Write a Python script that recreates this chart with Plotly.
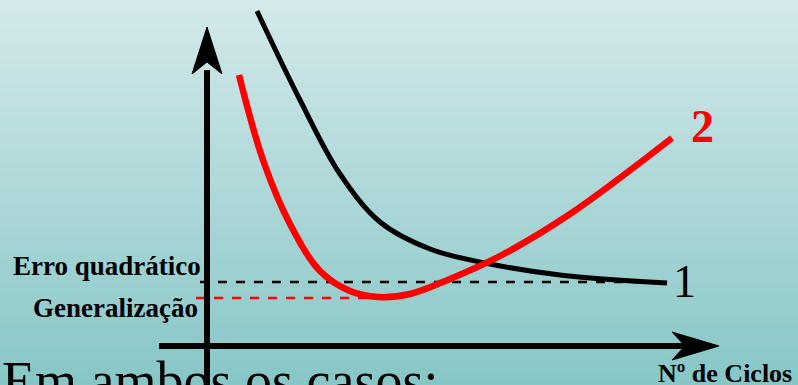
import plotly.graph_objects as go

# ---- data (x = nº de ciclos, y = erro, in chart units) ----
cycles_1 = [50, 93, 133, 173, 223, 278, 353, 460]
error_1 = [335, 246, 172, 124, 97, 83, 71, 63]

cycles_2 = [32, 56, 83, 113, 143, 171, 203, 243, 293, 363, 465]
error_2 = [271, 186, 122, 75, 55, 49, 52, 67, 90, 132, 208]

erro_quadratico = 64      # dashed reference level of curve 1
generalizacao = 48        # dashed reference level (minimum of curve 2)
erro_x_end = 460
gen_x_end = 170

x_label = "Nº de Ciclos"
level_labels = ["Erro quadrático", "Generalização"]
curve_labels = ["1", "2"]
caption = "Em ambos os casos:"

# ---- frame ----
X0, X1 = -207, 591
Y0, Y1 = -39, 346
TOP_COLOR = "#d4e9ea"
BOTTOM_COLOR = "#87c6c6"
SERIF = "Liberation Serif, Times New Roman, serif"

fig = go.Figure()

# background gradient
fig.add_trace(go.Heatmap(
    x=[X0, X1], y=[Y0, Y1], z=[[0, 0], [1, 1]],
    colorscale=[[0, BOTTOM_COLOR], [1, TOP_COLOR]],
    zsmooth="best", showscale=False, hoverinfo="skip"))

# dashed reference lines
fig.add_trace(go.Scatter(
    x=[-7, erro_x_end], y=[erro_quadratico, erro_quadratico], mode="lines",
    line=dict(color="black", width=2.5, dash="9px,9px"), hoverinfo="skip"))
fig.add_trace(go.Scatter(
    x=[-11, gen_x_end], y=[generalizacao, generalizacao], mode="lines",
    line=dict(color="#ff0000", width=2.5, dash="9px,9px"), hoverinfo="skip"))

# curves
fig.add_trace(go.Scatter(
    x=cycles_1, y=error_1, mode="lines",
    line=dict(color="black", width=5, shape="spline", smoothing=1.0),
    hoverinfo="skip"))
fig.add_trace(go.Scatter(
    x=cycles_2, y=error_2, mode="lines",
    line=dict(color="#ff0000", width=6.5, shape="spline", smoothing=1.0),
    hoverinfo="skip"))

shapes = [
    # vertical axis
    dict(type="line", x0=0, x1=0, y0=Y0 - 5, y1=276, line=dict(color="black", width=6)),
    dict(type="path", path="M 0 319 L -15 272 L 0 284 L 15 272 Z",
         fillcolor="black", line=dict(color="black", width=1)),
    # horizontal axis
    dict(type="line", x0=-48, x1=482, y0=0, y1=0, line=dict(color="black", width=6)),
    dict(type="path", path="M 512 0 L 465 14 L 478 0 L 465 -14 Z",
         fillcolor="black", line=dict(color="black", width=1)),
]

annotations = [
    dict(x=-4, y=63, text="<b>" + level_labels[0] + "</b>", xanchor="right", yanchor="bottom",
         font=dict(family=SERIF, size=27, color="black"), showarrow=False),
    dict(x=-7, y=21, text="<b>" + level_labels[1] + "</b>", xanchor="right", yanchor="bottom",
         font=dict(family=SERIF, size=27, color="black"), showarrow=False),
    dict(x=449, y=-11, text="<b>" + x_label + "</b>", xanchor="left", yanchor="top",
         font=dict(family=SERIF, size=26, color="black"), showarrow=False),
    dict(x=464, y=37, text=curve_labels[0], xanchor="left", yanchor="bottom",
         font=dict(family=SERIF, size=46, color="black"), showarrow=False),
    dict(x=482, y=192, text="<b>" + curve_labels[1] + "</b>", xanchor="left", yanchor="bottom",
         font=dict(family=SERIF, size=46, color="#ff0000"), showarrow=False),
    dict(x=-207, y=-3, text=caption, xanchor="left", yanchor="top",
         font=dict(family=SERIF, size=54, color="black"), showarrow=False),
]

fig.update_layout(
    width=798, height=385,
    margin=dict(l=0, r=0, t=0, b=0),
    paper_bgcolor=BOTTOM_COLOR, plot_bgcolor=BOTTOM_COLOR,
    showlegend=False,
    xaxis=dict(range=[X0, X1], visible=False, fixedrange=True),
    yaxis=dict(range=[Y0, Y1], visible=False, fixedrange=True),
    shapes=shapes, annotations=annotations,
)

fig.write_html("out.html", config={"displayModeBar": False},
               post_script="document.body.style.margin='0';")
